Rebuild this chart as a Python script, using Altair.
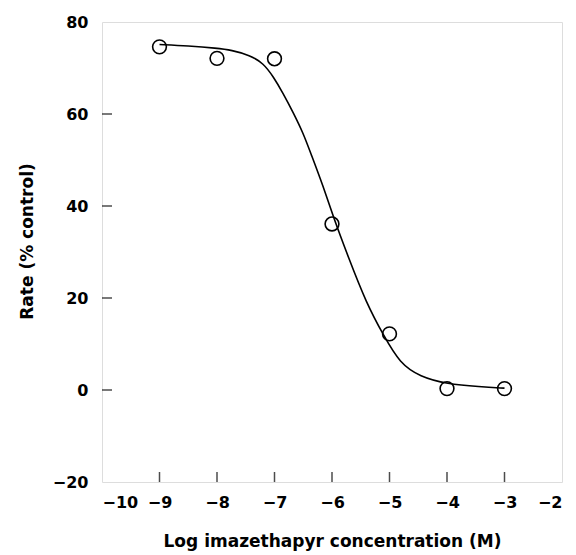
import altair as alt
import pandas as pd

# measured points
conc = [-9, -8, -7, -6, -5, -4, -3]
rate = [74.6, 72.1, 72.0, 36.1, 12.2, 0.3, 0.3]

# fitted curve
curve_x = [-9.0, -8.5, -8.0, -7.75, -7.43, -7.19, -7.02, -6.85, -6.67, -6.50,
           -6.38, -6.15, -5.98, -5.72, -5.40, -5.10, -4.82, -4.47, -4.0,
           -3.43, -3.0]
curve_y = [75.1, 74.8, 74.3, 73.9, 72.8, 71.0, 68.1, 64.5, 60.2, 55.8,
           51.8, 44.2, 37.7, 29.0, 18.8, 11.8, 5.8, 2.9, 1.3,
           0.7, 0.4]

x_ticks = [-9, -8, -7, -6, -5, -4, -3]
y_ticks = [0, 20, 40, 60]
x_labels = [-10, -9, -8, -7, -6, -5, -4, -3, -2]
y_labels = [-20, 0, 20, 40, 60, 80]

FONT = "DejaVu Sans"

pts = pd.DataFrame({"x": conc, "y": rate})
crv = pd.DataFrame({"x": curve_x, "y": curve_y})
xt = pd.DataFrame({"x": x_ticks})
yt = pd.DataFrame({"y": y_ticks})

xs = alt.Scale(domain=[-10, -2], nice=False, zero=False)
ys = alt.Scale(domain=[-20, 80], nice=False, zero=False)

x_axis = alt.Axis(values=x_labels, title="Log imazethapyr concentration (M)",
                  ticks=False, domain=False, grid=False, labelPadding=12,
                  labelFont=FONT, labelFontWeight="bold", labelFontSize=16,
                  labelColor="black", titleFont=FONT, titleFontWeight="bold",
                  titleFontSize=17, titleColor="black", titlePadding=23,
                  format="d")
y_axis = alt.Axis(values=y_labels, title="Rate (% control)",
                  ticks=False, domain=False, grid=False, labelPadding=14,
                  labelFont=FONT, labelFontWeight="bold", labelFontSize=16,
                  labelColor="black", titleFont=FONT, titleFontWeight="bold",
                  titleFontSize=17, titleColor="black", titlePadding=16,
                  titleY=219, format="d")

line = alt.Chart(crv).mark_line(color="black", strokeWidth=1.6,
                                interpolate="basis").encode(
    x=alt.X("x:Q", scale=xs, axis=x_axis),
    y=alt.Y("y:Q", scale=ys, axis=y_axis),
)

points = alt.Chart(pts).mark_point(shape="circle", filled=False, color="black",
                                   size=190, strokeWidth=1.6, opacity=1).encode(
    x=alt.X("x:Q", scale=xs),
    y=alt.Y("y:Q", scale=ys),
)

xtick = alt.Chart(xt).mark_tick(orient="vertical", size=10, thickness=1.5,
                                color="black").encode(
    x=alt.X("x:Q", scale=xs),
    y=alt.value(455),
)

ytick = alt.Chart(yt).mark_tick(orient="horizontal", size=10, thickness=1.5,
                                color="black").encode(
    y=alt.Y("y:Q", scale=ys),
    x=alt.value(5),
)

chart = alt.layer(line, points, xtick, ytick).properties(
    width=460, height=460,
    autosize=alt.AutoSizeParams(type="none"),
    padding={"left": 94, "top": 14, "right": 6, "bottom": 73},
).configure_view(stroke="black", strokeWidth=1.6).configure(background="white")

chart.save("out.html", embed_options={"renderer": "svg", "actions": False})
